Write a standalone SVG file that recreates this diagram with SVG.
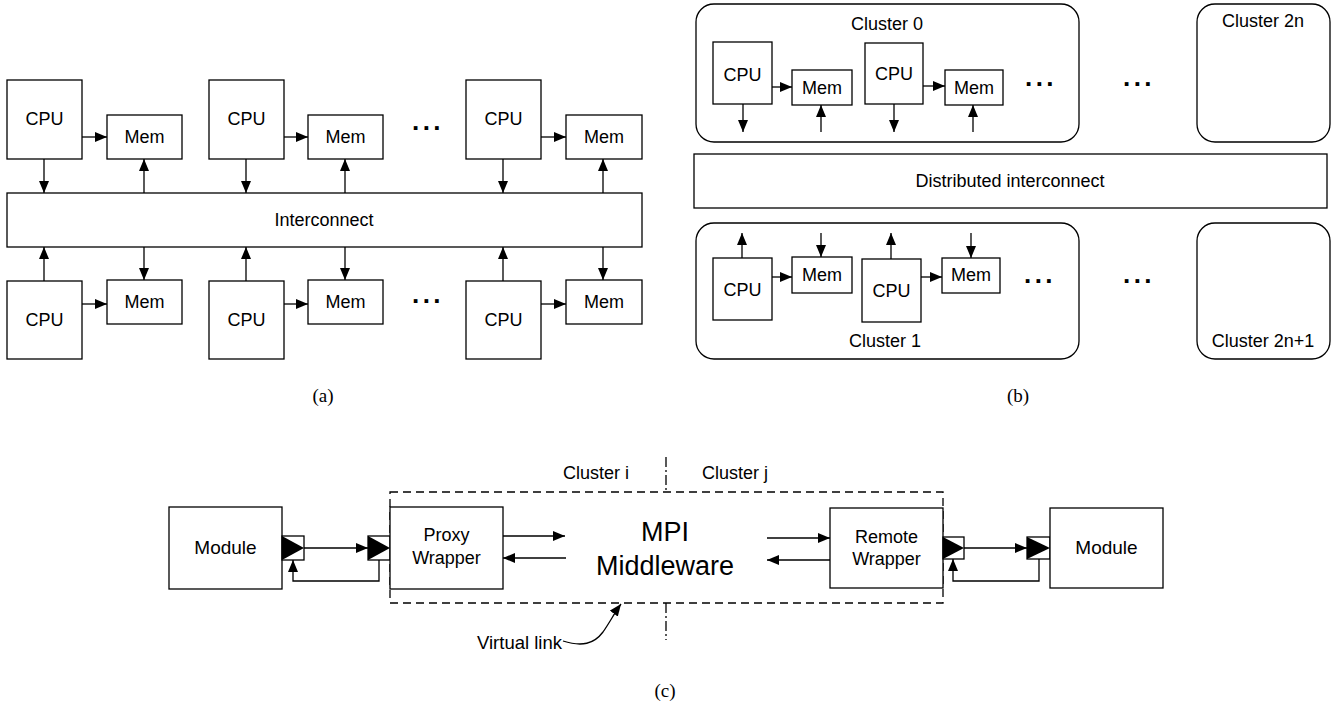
<svg xmlns="http://www.w3.org/2000/svg" width="1338" height="705" viewBox="0 0 1338 705">
<style>
.b{fill:#fff;stroke:#000;stroke-width:1.3}
.l{fill:none;stroke:#000;stroke-width:1.3}
.t{font-family:"Liberation Sans",Arial,sans-serif;font-size:18px;text-anchor:middle;fill:#000}
.d{font-family:"Liberation Sans",Arial,sans-serif;font-size:26px;font-weight:bold;text-anchor:middle;letter-spacing:3.5px;fill:#000}
.cap{font-family:"Liberation Serif","Times New Roman",serif;font-size:19px;text-anchor:middle;fill:#000}
.a{marker-end:url(#ah)}
</style>
<defs>
<marker id="ah" viewBox="0 0 12 10" refX="12" refY="5" markerWidth="12" markerHeight="10" markerUnits="userSpaceOnUse" orient="auto"><path d="M0,0 L12,5 L0,10 Z" fill="#000"/></marker>
</defs>
<rect width="1338" height="705" fill="#fff"/>

<!-- ===== (a) ===== -->
<g id="a-interconnect"><rect class="b" x="7" y="193" width="635" height="54"/><text class="t" x="324" y="226">Interconnect</text></g>
<g id="a-cpu-t1"><rect class="b" x="7" y="80" width="75" height="79"/><text class="t" x="44.5" y="125">CPU</text></g>
<g id="a-mem-t1"><rect class="b" x="107" y="115" width="75" height="44"/><text class="t" x="144.5" y="143">Mem</text></g>
<g id="a-cpu-t2"><rect class="b" x="209" y="80" width="75" height="79"/><text class="t" x="246.5" y="125">CPU</text></g>
<g id="a-mem-t2"><rect class="b" x="308" y="115" width="75" height="44"/><text class="t" x="345.5" y="143">Mem</text></g>
<g id="a-cpu-t3"><rect class="b" x="466" y="80" width="75" height="79"/><text class="t" x="503.5" y="125">CPU</text></g>
<g id="a-mem-t3"><rect class="b" x="566" y="115" width="76" height="44"/><text class="t" x="604" y="143">Mem</text></g>
<g id="a-cpu-b1"><rect class="b" x="7" y="281" width="75" height="78"/><text class="t" x="44.5" y="326">CPU</text></g>
<g id="a-mem-b1"><rect class="b" x="107" y="280" width="75" height="44"/><text class="t" x="144.5" y="308">Mem</text></g>
<g id="a-cpu-b2"><rect class="b" x="209" y="281" width="75" height="78"/><text class="t" x="246.5" y="326">CPU</text></g>
<g id="a-mem-b2"><rect class="b" x="308" y="280" width="75" height="44"/><text class="t" x="345.5" y="308">Mem</text></g>
<g id="a-cpu-b3"><rect class="b" x="466" y="281" width="75" height="78"/><text class="t" x="503.5" y="326">CPU</text></g>
<g id="a-mem-b3"><rect class="b" x="566" y="280" width="76" height="44"/><text class="t" x="604" y="308">Mem</text></g>
<g id="a-dots"><text class="d" x="428" y="130">...</text><text class="d" x="428" y="303">...</text></g>
<text class="cap" x="323" y="402">(a)</text>

<!-- ===== (b) ===== -->
<g id="b-cluster0"><rect class="b" x="696" y="4" width="383" height="138" rx="18"/><text class="t" x="887" y="30">Cluster 0</text></g>
<g id="b-cluster2n"><rect class="b" x="1197" y="4" width="133" height="138" rx="18"/><text class="t" x="1263" y="27">Cluster 2n</text></g>
<g id="b-cluster1"><rect class="b" x="696" y="223" width="383" height="136" rx="18"/><text class="t" x="885" y="347">Cluster 1</text></g>
<g id="b-cluster2n1"><rect class="b" x="1197" y="223" width="133" height="136" rx="18"/><text class="t" x="1263" y="347">Cluster 2n+1</text></g>
<g id="b-interconnect"><rect class="b" x="694" y="154" width="633" height="54"/><text class="t" x="1010" y="187">Distributed interconnect</text></g>
<g id="b-c0-cpu1"><rect class="b" x="713" y="42" width="59" height="62"/><text class="t" x="742.5" y="81">CPU</text></g>
<g id="b-c0-mem1"><rect class="b" x="792" y="70" width="60" height="35"/><text class="t" x="822" y="94">Mem</text></g>
<g id="b-c0-cpu2"><rect class="b" x="865" y="43" width="58" height="61"/><text class="t" x="894" y="80">CPU</text></g>
<g id="b-c0-mem2"><rect class="b" x="945" y="70" width="58" height="35"/><text class="t" x="974" y="94">Mem</text></g>
<g id="b-c1-cpu1"><rect class="b" x="713" y="258" width="59" height="62"/><text class="t" x="742.5" y="296">CPU</text></g>
<g id="b-c1-mem1"><rect class="b" x="792" y="257" width="60" height="36"/><text class="t" x="822" y="281">Mem</text></g>
<g id="b-c1-cpu2"><rect class="b" x="862" y="259" width="59" height="63"/><text class="t" x="891.5" y="297">CPU</text></g>
<g id="b-c1-mem2"><rect class="b" x="942" y="258" width="58" height="35"/><text class="t" x="971" y="281">Mem</text></g>
<g id="b-dots"><text class="d" x="1041" y="86">...</text><text class="d" x="1139" y="86">...</text><text class="d" x="1040" y="283">...</text><text class="d" x="1139" y="283">...</text></g>
<text class="cap" x="1018" y="402">(b)</text>

<!-- ===== (c) ===== -->
<g id="c-virtual-box"><rect x="390" y="492" width="553" height="111" fill="none" stroke="#000" stroke-width="1.3" stroke-dasharray="8,5"/></g>
<g id="c-divider"><line class="l" x1="666" y1="457" x2="666" y2="492" stroke-dasharray="10,3,2,3"/><line class="l" x1="666" y1="603" x2="666" y2="640" stroke-dasharray="10,3,2,3"/></g>
<g id="c-labels"><text class="t" x="596" y="479">Cluster i</text><text class="t" x="735" y="479">Cluster j</text></g>
<g id="c-module-l"><rect class="b" x="169" y="507" width="113" height="82"/><text class="t" x="225.5" y="554" style="font-size:19px">Module</text></g>
<g id="c-port-l"><rect class="b" x="282" y="536" width="22" height="24"/><path d="M282,536 L304,548 L282,560 Z" fill="#000"/></g>
<g id="c-port-p"><rect class="b" x="368" y="536" width="22" height="24"/><path d="M368,536 L390,548 L368,560 Z" fill="#000"/></g>
<g id="c-proxy"><rect class="b" x="390" y="507" width="113" height="82"/><text class="t" x="446.5" y="541">Proxy</text><text class="t" x="446.5" y="564">Wrapper</text></g>
<g id="c-mpi"><text class="t" x="665" y="541" style="font-size:27px">MPI</text><text class="t" x="665" y="575" style="font-size:27px">Middleware</text></g>
<g id="c-remote"><rect class="b" x="830" y="508" width="113" height="80"/><text class="t" x="886.5" y="543">Remote</text><text class="t" x="886.5" y="565">Wrapper</text></g>
<g id="c-port-r1"><rect class="b" x="943" y="537" width="21" height="22"/><path d="M943,537 L964,548 L943,559 Z" fill="#000"/></g>
<g id="c-port-r2"><rect class="b" x="1027" y="537" width="23" height="22"/><path d="M1027,537 L1050,548 L1027,559 Z" fill="#000"/></g>
<g id="c-module-r"><rect class="b" x="1050" y="508" width="113" height="80"/><text class="t" x="1106.5" y="554" style="font-size:19px">Module</text></g>
<g id="c-vlink-label"><text class="t" x="562" y="649" style="text-anchor:end;font-size:18.5px">Virtual link</text></g>
<text class="cap" x="665" y="697">(c)</text>

<!-- ===== connectors ===== -->
<g id="connectors">
<line class="l a" x1="82" y1="137" x2="107" y2="137"/>
<line class="l a" x1="284" y1="137" x2="308" y2="137"/>
<line class="l a" x1="541" y1="137" x2="566" y2="137"/>
<line class="l a" x1="44" y1="159" x2="44" y2="193"/>
<line class="l a" x1="246" y1="159" x2="246" y2="193"/>
<line class="l a" x1="503" y1="159" x2="503" y2="193"/>
<line class="l a" x1="144" y1="193" x2="144" y2="159"/>
<line class="l a" x1="345" y1="193" x2="345" y2="159"/>
<line class="l a" x1="603" y1="193" x2="603" y2="159"/>
<line class="l a" x1="82" y1="304" x2="107" y2="304"/>
<line class="l a" x1="284" y1="304" x2="308" y2="304"/>
<line class="l a" x1="541" y1="304" x2="566" y2="304"/>
<line class="l a" x1="44" y1="281" x2="44" y2="247"/>
<line class="l a" x1="246" y1="281" x2="246" y2="247"/>
<line class="l a" x1="503" y1="281" x2="503" y2="247"/>
<line class="l a" x1="144" y1="247" x2="144" y2="280"/>
<line class="l a" x1="345" y1="247" x2="345" y2="280"/>
<line class="l a" x1="603" y1="247" x2="603" y2="280"/>
<line class="l a" x1="772" y1="87" x2="792" y2="87"/>
<line class="l a" x1="923" y1="86" x2="945" y2="86"/>
<line class="l a" x1="743" y1="104" x2="743" y2="132"/>
<line class="l a" x1="894" y1="104" x2="894" y2="132"/>
<line class="l a" x1="821" y1="132" x2="821" y2="105"/>
<line class="l a" x1="973" y1="132" x2="973" y2="105"/>
<line class="l a" x1="772" y1="277" x2="792" y2="277"/>
<line class="l a" x1="921" y1="277" x2="942" y2="277"/>
<line class="l a" x1="742" y1="258" x2="742" y2="233"/>
<line class="l a" x1="891" y1="259" x2="891" y2="233"/>
<line class="l a" x1="821" y1="233" x2="821" y2="257"/>
<line class="l a" x1="971" y1="233" x2="971" y2="258"/>
<line class="l a" x1="304" y1="548" x2="368" y2="548"/>
<polyline class="l a" points="379,560 379,581 293,581 293,560"/>
<line class="l a" x1="503" y1="536" x2="565" y2="536"/>
<line class="l a" x1="566" y1="558" x2="503" y2="558"/>
<line class="l a" x1="767" y1="538" x2="830" y2="538"/>
<line class="l a" x1="830" y1="560" x2="767" y2="560"/>
<line class="l a" x1="964" y1="548" x2="1027" y2="548"/>
<polyline class="l a" points="1039,559 1039,581 953,581 953,559"/>
<path class="l a" d="M563,641 C582,647 594,644 603,632 C610,622 615,612 621,604"/>
</g>
</svg>
